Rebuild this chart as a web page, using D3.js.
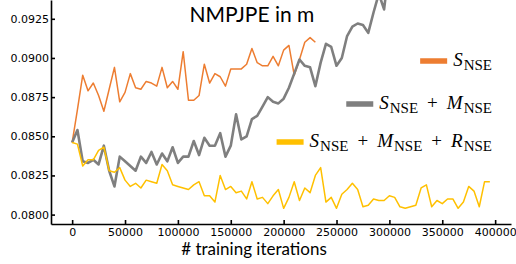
<!DOCTYPE html>
<html>
<head>
<meta charset="utf-8">
<script src="https://cdn.jsdelivr.net/npm/d3@7"></script>
<style>
  html, body { margin: 0; padding: 0; background: #fff; }
  svg { display: block; }
  .tick text { font-family: "DejaVu Sans", sans-serif; font-size: 11px; fill: #000; }
  .tick line, .domain { stroke: #000; stroke-width: 1.6; }
</style>
</head>
<body>
<div id="chart"></div>
<script>
// training iterations (x) and NMPJPE values
const iterations = [
    0, 5000, 10000, 15000, 20000, 25000, 30000, 35000, 40000, 45000,
    50000, 55000, 60000, 65000, 70000, 75000, 80000, 85000, 90000, 95000,
    100000, 105000, 110000, 115000, 120000, 125000, 130000, 135000, 140000, 145000,
    150000, 155000, 160000, 165000, 170000, 175000, 180000, 185000, 190000, 195000,
    200000, 205000, 210000, 215000, 220000, 225000, 230000, 235000, 240000, 245000,
    250000, 255000, 260000, 265000, 270000, 275000, 280000, 285000, 290000, 295000,
    300000, 305000, 310000, 315000, 320000, 325000, 330000, 335000, 340000, 345000,
    350000, 355000, 360000, 365000, 370000, 375000, 380000, 385000, 390000, 395000
];

const sNse = [
    0.0846, 0.0867, 0.0889, 0.0879, 0.0884, 0.0876, 0.0866, 0.0880, 0.0894, 0.0872,
    0.0878, 0.0890, 0.0881, 0.0880, 0.0885, 0.0884, 0.0882, 0.0894, 0.0881, 0.0885,
    0.0880, 0.0904, 0.0873, 0.0873, 0.0876, 0.0896, 0.0884, 0.0890, 0.0888, 0.0882,
    0.0893, 0.0893, 0.0893, 0.0896, 0.0906, 0.0897, 0.0895, 0.0895, 0.0901, 0.0895,
    0.0905, 0.0908, 0.0889, 0.0899, 0.0910, 0.0913, 0.0910
];

const sNseMNse = [
    0.0846, 0.0854, 0.0834, 0.0833, 0.0835, 0.0832, 0.0844, 0.0828, 0.0818, 0.0837,
    0.0834, 0.0831, 0.0828, 0.0837, 0.0833, 0.0840, 0.0832, 0.0839, 0.0834, 0.0843,
    0.0833, 0.0837, 0.0837, 0.0847, 0.0838, 0.0849, 0.0844, 0.0844, 0.0852, 0.0837,
    0.0844, 0.0864, 0.0848, 0.0850, 0.0861, 0.0863, 0.0869, 0.0875, 0.0872, 0.0871,
    0.0874, 0.0881, 0.0890, 0.0899, 0.0895, 0.0894, 0.0882, 0.0897, 0.0909, 0.0907,
    0.0895, 0.0900, 0.0914, 0.0920, 0.0922, 0.0921, 0.0916, 0.0929, 0.0941, 0.0931,
    0.0960
];

const sNseMNseRNse = [
    0.0846, 0.0845, 0.0831, 0.0835, 0.0835, 0.0841, 0.0843, 0.0828, 0.0827, 0.0830,
    0.0822, 0.0818, 0.0820, 0.0817, 0.0822, 0.0821, 0.0820, 0.0832, 0.0828, 0.0819,
    0.0818, 0.0817, 0.0816, 0.0819, 0.0821, 0.0812, 0.0812, 0.0808, 0.0825, 0.0816,
    0.0818, 0.0814, 0.0815, 0.0810, 0.0821, 0.0810, 0.0811, 0.0807, 0.0812, 0.0816,
    0.0804, 0.0811, 0.0821, 0.0809, 0.0817, 0.0814, 0.0825, 0.0830, 0.0808, 0.0811,
    0.0804, 0.0813, 0.0816, 0.0820, 0.0816, 0.0805, 0.0806, 0.0810, 0.0809, 0.0809,
    0.0812, 0.0811, 0.0805, 0.0804, 0.0805, 0.0806, 0.0817, 0.0819, 0.0805, 0.0809,
    0.0807, 0.0810, 0.0810, 0.0804, 0.0808, 0.0818, 0.0815, 0.0805, 0.0821, 0.0821
];

const xTicks = [0, 50000, 100000, 150000, 200000, 250000, 300000, 350000, 400000];
const yTicks = [0.0800, 0.0825, 0.0850, 0.0875, 0.0900, 0.0925];

// legend parts: [text, kind] where kind is var (italic), sub or op
const seriesList = [
    { values: sNse, color: '#ED7D31', width: 1.5,
      label: [['S', 'var'], ['NSE', 'sub']] },
    { values: sNseMNse, color: '#7F7F7F', width: 2.6,
      label: [['S', 'var'], ['NSE', 'sub'], ['+', 'op'], ['M', 'var'], ['NSE', 'sub']] },
    { values: sNseMNseRNse, color: '#FFC000', width: 1.5,
      label: [['S', 'var'], ['NSE', 'sub'], ['+', 'op'], ['M', 'var'], ['NSE', 'sub'],
              ['+', 'op'], ['R', 'var'], ['NSE', 'sub']] }
];

const WIDTH = 516;
const HEIGHT = 264;
const plot = { left: 51, right: 511, top: 0, bottom: 224 };

const svg = d3.select('#chart')
    .append('svg')
    .attr('width', WIDTH)
    .attr('height', HEIGHT);

const x = d3.scaleLinear()
    .domain([-20000, 415000])
    .range([plot.left, plot.right]);

const y = d3.scaleLinear()
    .domain([0.0794, 0.0937])
    .range([plot.bottom, plot.top]);

svg.append('defs')
    .append('clipPath')
    .attr('id', 'plotClip')
    .append('rect')
    .attr('x', plot.left)
    .attr('y', plot.top)
    .attr('width', plot.right - plot.left)
    .attr('height', plot.bottom - plot.top);

const line = d3.line()
    .x(d => x(d[0]))
    .y(d => y(d[1]));

const lines = svg.append('g').attr('clip-path', 'url(#plotClip)');

seriesList.forEach(series => {
    const points = series.values.map((v, i) => [iterations[i], v]);
    lines.append('path')
        .datum(points)
        .attr('fill', 'none')
        .attr('stroke', series.color)
        .attr('stroke-width', series.width)
        .attr('stroke-linejoin', 'round')
        .attr('d', line);
});

// axes, ticks pointing inward
svg.append('g')
    .attr('transform', `translate(0,${plot.bottom})`)
    .call(d3.axisBottom(x)
        .tickValues(xTicks)
        .tickFormat(d3.format('d'))
        .tickSizeInner(-4)
        .tickSizeOuter(0)
        .tickPadding(4));

svg.append('g')
    .attr('transform', `translate(${plot.left},0)`)
    .call(d3.axisLeft(y)
        .tickValues(yTicks)
        .tickFormat(d3.format('.4f'))
        .tickSizeInner(-4)
        .tickSizeOuter(0)
        .tickPadding(2));

svg.append('text')
    .attr('x', 252)
    .attr('y', 22)
    .attr('text-anchor', 'middle')
    .style('font-family', 'Lato, sans-serif')
    .style('font-size', '21px')
    .text('NMPJPE in m');

svg.append('text')
    .attr('x', 254)
    .attr('y', 255)
    .attr('text-anchor', 'middle')
    .style('font-family', 'Lato, sans-serif')
    .style('font-size', '17px')
    .text('# training iterations');

// legend, right aligned
const LEGEND_RIGHT = 492;
const legendRows = [61, 104, 142];
const SWATCH_W = 27;
const SWATCH_H = 5.5;
const SWATCH_GAP = 6;
const SUB_DROP = 4;

seriesList.forEach((series, i) => {
    const rowY = legendRows[i];
    const text = svg.append('text')
        .attr('x', LEGEND_RIGHT)
        .attr('y', rowY + 5)
        .attr('text-anchor', 'end')
        .style('font-family', '"Liberation Serif", serif')
        .style('font-size', '19px');

    let offset = 0;
    let afterOp = false;
    series.label.forEach(([part, kind]) => {
        const span = text.append('tspan').text(part);
        const target = kind === 'sub' ? SUB_DROP : 0;
        if (target !== offset) span.attr('dy', target - offset);
        offset = target;
        if (kind === 'var') {
            span.style('font-style', 'italic');
            if (afterOp) span.attr('dx', 9);
        } else if (kind === 'sub') {
            span.style('font-size', '15px').attr('dx', 1);
        } else {
            span.attr('dx', 9);
        }
        afterOp = kind === 'op';
    });

    const textStart = LEGEND_RIGHT - text.node().getComputedTextLength() - 1 - (afterOp ? 0 : 0);
    const box = text.node().getBBox();
    svg.append('rect')
        .attr('x', Math.min(textStart, box.x) - SWATCH_GAP - SWATCH_W)
        .attr('y', rowY - SWATCH_H / 2)
        .attr('width', SWATCH_W)
        .attr('height', SWATCH_H)
        .attr('fill', series.color);
});
</script>
</body>
</html>
